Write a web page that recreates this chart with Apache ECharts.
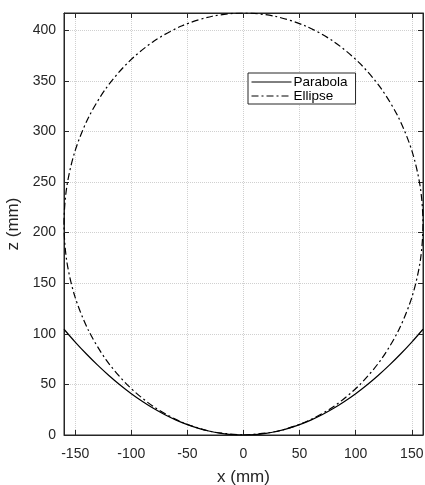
<!DOCTYPE html>
<html><head><meta charset="utf-8">
<script src="https://cdn.jsdelivr.net/npm/echarts@6/dist/echarts.min.js"></script>
<style>html,body{margin:0;padding:0;background:#fff}#c{width:425px;height:485px}</style>
</head><body><div id="c"></div>
<script>
// Parabola points [x, z]
const parabolaX = [-160,-150,-140,-130,-120,-110,-100,-90,-80,-70,-60,-50,-40,-30,-20,-10,0,10,20,30,40,50,60,70,80,90,100,110,120,130,140,150,160];
const parabolaZ = [104.5,91.8,80,69,58.8,49.4,40.8,33.1,26.1,20,14.7,10.2,6.5,3.7,1.6,0.4,0,0.4,1.6,3.7,6.5,10.2,14.7,20,26.1,33.1,40.8,49.4,58.8,69,80,91.8,104.5];
// Ellipse points [x, z] (closed curve)
const ellipseX = [0,27.8,54.7,80,102.8,122.6,138.6,150.4,157.6,160,157.6,150.4,138.6,122.6,102.8,80,54.7,27.8,0,-27.8,-54.7,-80,-102.8,-122.6,-138.6,-150.4,-157.6,-160,-157.6,-150.4,-138.6,-122.6,-102.8,-80,-54.7,-27.8,0];
const ellipseZ = [0,3.2,12.6,27.9,48.8,74.5,104.3,137.2,172.3,208.5,244.7,279.8,312.8,342.5,368.2,389.1,404.4,413.8,417,413.8,404.4,389.1,368.2,342.5,312.8,279.8,244.7,208.5,172.3,137.2,104.3,74.5,48.8,27.9,12.6,3.2,0];
const xTicks = [-150,-100,-50,0,50,100,150];
const seriesNames = ['Parabola','Ellipse'];

const zip = (a,b)=>a.map((v,i)=>[v,b[i]]);
const txt = '#262626';
const font = 'Liberation Sans, Arial, sans-serif';
const chart = echarts.init(document.getElementById('c'));
const gridLine = {show:true,lineStyle:{color:'#d0d0d0',type:[1,1],width:1}};
const axLine = {show:true,onZero:false,lineStyle:{color:'#262626'}};
chart.setOption({
  animation:false,
  grid:{left:64,right:2,top:13,bottom:50,show:true,borderColor:'#262626',borderWidth:1,containLabel:false,outerBoundsMode:'none'},
  xAxis:[{type:'value',min:-160,max:160,interval:50,
    name:'x (mm)',nameLocation:'middle',nameGap:34,nameTextStyle:{color:txt,fontSize:17,fontFamily:font},
    axisLine:axLine,
    axisTick:{show:true,inside:true,length:5,lineStyle:{color:'#262626'},customValues:xTicks},
    axisLabel:{color:txt,fontSize:14,fontFamily:font,margin:12,customValues:xTicks},
    splitLine:Object.assign({},gridLine)},
    {type:'value',position:'top',min:-160,max:160,interval:50,
    axisLine:axLine,
    axisTick:{show:true,inside:true,length:5,lineStyle:{color:'#262626'},customValues:xTicks},
    axisLabel:{show:false},splitLine:{show:false}}],
  yAxis:[{type:'value',min:0,max:417,interval:50,
    name:'z (mm)',nameLocation:'middle',nameGap:40,nameTextStyle:{color:txt,fontSize:17,fontFamily:font},
    axisLine:axLine,
    axisTick:{show:true,inside:true,length:5,lineStyle:{color:'#262626'}},
    axisLabel:{color:txt,fontSize:14,fontFamily:font,margin:8,showMaxLabel:false},
    splitLine:Object.assign({},gridLine)},
    {type:'value',position:'right',min:0,max:417,interval:50,
    axisLine:axLine,
    axisTick:{show:true,inside:true,length:5,lineStyle:{color:'#262626'}},
    axisLabel:{show:false},splitLine:{show:false}}],
  legend:{orient:'vertical',left:248,top:73,itemWidth:40,itemHeight:10,itemGap:0,
    padding:[2,8,1,3],borderColor:'#262626',borderWidth:1,backgroundColor:'#fff',
    itemStyle:{opacity:0},lineStyle:{width:1},
    textStyle:{color:'#000',fontSize:13.5,lineHeight:12,fontFamily:font,padding:[0,0,0,-3]},
    data:seriesNames},
  series:[
    {name:seriesNames[0],type:'line',data:zip(parabolaX,parabolaZ),smooth:0.3,showSymbol:false,symbol:'none',
      lineStyle:{color:'#000',width:1.2,type:'solid'},itemStyle:{color:'#000'},z:3},
    {name:seriesNames[1],type:'line',data:zip(ellipseX,ellipseZ),smooth:0.3,showSymbol:false,symbol:'none',
      lineStyle:{color:'#000',width:1.2,type:[7,3,2,3]},itemStyle:{color:'#000'},z:2}
  ]
});
</script></body></html>
